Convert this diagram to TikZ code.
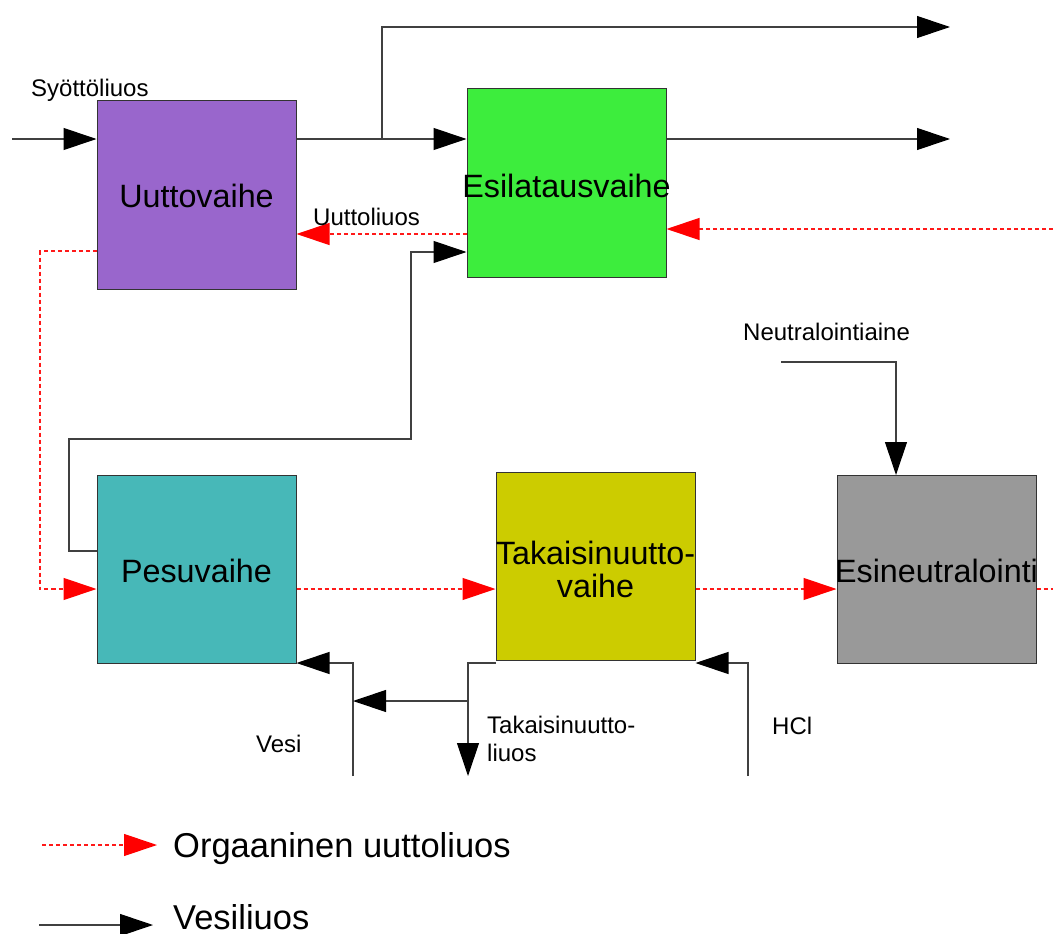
\documentclass[tikz,border=0pt]{standalone}
\usepackage{fontspec}
\setmainfont{Liberation Sans}
\usetikzlibrary{arrows.meta}
\definecolor{cU}{HTML}{9966CC}
\definecolor{cE}{HTML}{3DED3D}
\definecolor{cP}{HTML}{47B8B8}
\definecolor{cT}{HTML}{CCCC00}
\definecolor{cN}{HTML}{999999}
\begin{document}
\begin{tikzpicture}[x=1pt,y=-1pt,
  stagebox/.style={draw=black!80,line width=1pt,minimum width=199pt,minimum height=188pt,inner sep=0pt},
  boxtext/.style={font=\fontsize{32.3}{33}\selectfont,inner sep=0pt,align=center},
  smalltext/.style={font=\fontsize{24}{28}\selectfont,inner sep=0pt,anchor=base west,align=left},
  legtext/.style={font=\fontsize{34.5}{36}\selectfont,inner sep=0pt,anchor=base west},
  wline/.style={draw=black!75,line width=1.1pt},
  oline/.style={draw=red!90,line width=1.2pt,dash pattern=on 4pt off 3pt},
  warr/.style={-{Triangle[length=33pt,width=22pt,color=black]}},
  rarr/.style={-{Triangle[length=33pt,width=22pt,color=red]}}]
\useasboundingbox (0,0) rectangle (1053,934);

% boxes
\node[stagebox,fill=cU] (U) at (196.5,195) {};
\node[stagebox,fill=cE] (E) at (566.5,183) {};
\node[stagebox,fill=cP] (P) at (196.5,569.5) {};
\node[stagebox,fill=cT] (T) at (595.5,566.5) {};
\node[stagebox,fill=cN] (N) at (936.5,569.5) {};

\node[boxtext,anchor=base] (Ut) at (196.5,207) {Uuttovaihe};
\node[boxtext,anchor=base] (Et) at (566.5,197) {Esilatausvaihe};
\node[boxtext,anchor=base] (Pt) at (196.5,582) {Pesuvaihe};
\node[boxtext,anchor=base] (Tt1) at (595.5,564) {Takaisinuutto-};
\node[boxtext,anchor=base] (Tt2) at (595.5,597) {vaihe};
\node[boxtext,anchor=base] (Nt) at (936.5,582) {Esineutralointi};

% coordinates
\coordinate (feed) at (12,139);
\coordinate (br) at (382,139);
\coordinate (topout) at (950,27);
\coordinate (midout) at (950,139);
\coordinate (redin) at (1053,229);
\coordinate (uo) at (0,234);
\coordinate (wash1) at (69,551);
\coordinate (wash2) at (69,439);
\coordinate (wash3) at (411,439);
\coordinate (wash4) at (411,252);
\coordinate (org1) at (40,251);
\coordinate (org2) at (40,589);
\coordinate (redout) at (1053,589);
\coordinate (neu) at (781,362);
\coordinate (neuc) at (896,362);
\coordinate (hcl0) at (748,776);
\coordinate (hcl1) at (748,663);
\coordinate (vesi0) at (353,776);
\coordinate (vesi1) at (353,663);
\coordinate (tk1) at (468,663);
\coordinate (tkout) at (468,776);
\coordinate (tkbr) at (468,701);

% aqueous connectors
\draw[wline,warr] (feed) -- (feed -| U.west);
\draw[wline,warr] (U.east |- feed) -- (E.west |- feed);
\draw[wline,warr] (br) |- (topout);
\draw[wline,warr] (E.east |- midout) -- (midout);
\draw[wline,warr] (P.west |- wash1) -- (wash1) -- (wash2) -- (wash3) -- (wash4) -- (E.west |- wash4);
\draw[wline,warr] (neu) -- (neuc) -- (neuc |- N.north);
\draw[wline,warr] (hcl0) -- (hcl1) -- (hcl1 -| T.east);
\draw[wline,warr] (vesi0) -- (vesi1) -- (vesi1 -| P.east);
\draw[wline,warr] (T.west |- tk1) -- (tk1) -- (tkout);
\draw[wline,warr] (tkbr) -- (vesi1 |- tkbr);

% organic connectors
\draw[oline,rarr] (redin) -- (redin -| E.east);
\draw[oline,rarr] (E.west |- uo) -- (U.east |- uo);
\draw[oline,rarr] (U.west |- org1) -- (org1) -- (org2) -- (P.west |- org2);
\draw[oline,rarr] (P.east |- org2) -- (T.west |- org2);
\draw[oline,rarr] (T.east |- org2) -- (N.west |- org2);
\draw[oline] (N.east |- org2) -- (redout);

% labels
\node[smalltext] (lsyo) at (31,96) {Syöttöliuos};
\node[smalltext] (luut) at (313,225) {Uuttoliuos};
\node[smalltext] (lneu) at (743,340) {Neutralointiaine};
\node[smalltext] (lhcl) at (772,734) {HCl};
\node[smalltext] (lves) at (256,752) {Vesi};
\node[smalltext] (ltk1) at (487,733) {Takaisinuutto-};
\node[smalltext] (ltk2) at (487,761) {liuos};

% legend
\coordinate (l1a) at (42,845);
\coordinate (l1b) at (157,845);
\coordinate (l2a) at (39,925);
\coordinate (l2b) at (153,925);
\draw[oline,rarr] (l1a) -- (l1b);
\draw[wline,warr] (l2a) -- (l2b);
\node[legtext] (leg1) at (173,857) {Orgaaninen uuttoliuos};
\node[legtext] (leg2) at (173,929) {Vesiliuos};
\end{tikzpicture}
\end{document}
